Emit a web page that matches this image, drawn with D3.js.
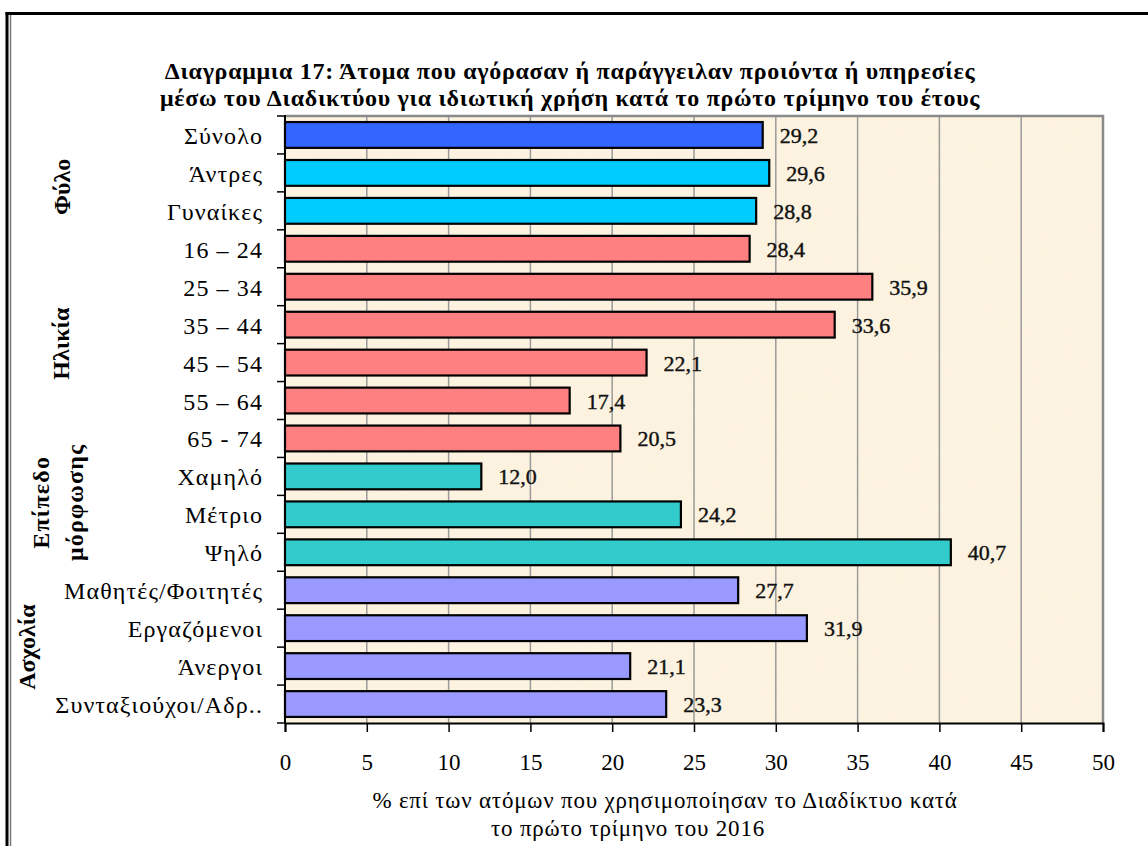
<!DOCTYPE html>
<html>
<head>
<meta charset="utf-8">
<script src="https://cdn.jsdelivr.net/npm/d3@7"></script>
<style>
  body { margin: 0; background: #fff; }
  text { font-family: "Liberation Serif", "DejaVu Serif Condensed", "DejaVu Serif", serif; fill: #000; }
</style>
</head>
<body>
<div class="chart"></div>
<script>
// Data
var categories = ["Σύνολο", "Άντρες", "Γυναίκες", "16 – 24", "25 – 34", "35 – 44", "45 – 54",
  "55 – 64", "65 - 74", "Χαμηλό", "Μέτριο", "Ψηλό", "Μαθητές/Φοιτητές", "Εργαζόμενοι",
  "Άνεργοι", "Συνταξιούχοι/Αδρ.."];
var values = [29.2, 29.6, 28.8, 28.4, 35.9, 33.6, 22.1, 17.4, 20.5, 12.0, 24.2, 40.7, 27.7, 31.9, 21.1, 23.3];
var groupOf = ["total", "sex", "sex", "age", "age", "age", "age", "age", "age",
  "edu", "edu", "edu", "job", "job", "job", "job"];
var groupColors = { total: "#3366FF", sex: "#00CCFF", age: "#FF8080", edu: "#33CCCC", job: "#9999FF" };
var groupLabels = [
  { lines: ["Φύλο"], first: "Άντρες", last: "Γυναίκες" },
  { lines: ["Ηλικία"], first: "16 – 24", last: "65 - 74" },
  { lines: ["Επίπεδο", "μόρφωσης"], first: "Χαμηλό", last: "Ψηλό" },
  { lines: ["Ασχολία"], first: "Μαθητές/Φοιτητές", last: "Συνταξιούχοι/Αδρ.." }
];
var xTicks = [0, 5, 10, 15, 20, 25, 30, 35, 40, 45, 50];
var titleLines = [
  "Διαγραμμια 17: Άτομα που αγόρασαν ή παράγγειλαν προιόντα ή υπηρεσίες",
  "μέσω του Διαδικτύου για ιδιωτική χρήση κατά το πρώτο τρίμηνο του έτους"
];
var xTitleLines = [
  "% επί των ατόμων που χρησιμοποίησαν το Διαδίκτυο κατά",
  "το πρώτο τρίμηνο του 2016"
];

var svgWidth = 1148;
var svgHeight = 846;
var plot = { left: 285, right: 1103, top: 116, bottom: 723 };

var svg = d3.select(".chart").append("svg")
  .attr("width", svgWidth)
  .attr("height", svgHeight);

// outer frame
svg.append("line").attr("x1", 7).attr("x2", 7).attr("y1", 12).attr("y2", svgHeight)
  .attr("stroke", "#000").attr("stroke-width", 3);
svg.append("line").attr("x1", 10.5).attr("x2", 10.5).attr("y1", 15).attr("y2", svgHeight)
  .attr("stroke", "#777").attr("stroke-width", 1.5);
svg.append("line").attr("x1", 5.5).attr("x2", svgWidth).attr("y1", 13.5).attr("y2", 13.5)
  .attr("stroke", "#000").attr("stroke-width", 3);

// scales
var x = d3.scaleLinear().domain([0, 50]).range([plot.left, plot.right]);
var y = d3.scaleBand().domain(categories).range([plot.top, plot.bottom])
  .paddingInner(0.32).paddingOuter(0.16);

// plot background (parchment)
var defs = svg.append("defs");
var f = defs.append("filter").attr("id", "paper").attr("x", 0).attr("y", 0).attr("width", 1).attr("height", 1);
f.append("feTurbulence").attr("type", "fractalNoise").attr("baseFrequency", 0.02).attr("numOctaves", 3).attr("seed", 4).attr("result", "n");
f.append("feColorMatrix").attr("in", "n").attr("type", "matrix")
  .attr("values", "0 0 0 0 0.95  0 0 0 0 0.88  0 0 0 0 0.74  0 0 0 0.3 0").attr("result", "c");
f.append("feComposite").attr("in", "c").attr("in2", "SourceGraphic").attr("operator", "in").attr("result", "m");
f.append("feMerge").selectAll("feMergeNode").data(["SourceGraphic", "m"]).enter()
  .append("feMergeNode").attr("in", function(d) { return d; });

svg.append("rect")
  .attr("x", plot.left).attr("y", plot.top)
  .attr("width", plot.right - plot.left).attr("height", plot.bottom - plot.top)
  .attr("fill", "#FDF3E0")
  .attr("filter", "url(#paper)");

// grid lines
svg.append("g").selectAll("line")
  .data(xTicks.filter(function(d) { return d > 0 && d < 50; }))
  .enter().append("line")
  .attr("x1", function(d) { return x(d); }).attr("x2", function(d) { return x(d); })
  .attr("y1", plot.top).attr("y2", plot.bottom)
  .attr("stroke", "#9a9a9a").attr("stroke-width", 1.5);

// plot border top/right
svg.append("path")
  .attr("d", "M" + plot.left + "," + plot.top + "H" + plot.right + "V" + plot.bottom)
  .attr("fill", "none").attr("stroke", "#8a8a8a").attr("stroke-width", 2.5);

// bars
svg.append("g").selectAll("rect")
  .data(values).enter().append("rect")
  .attr("x", x(0))
  .attr("y", function(d, i) { return y(categories[i]); })
  .attr("width", function(d) { return x(d) - x(0); })
  .attr("height", y.bandwidth())
  .attr("fill", function(d, i) { return groupColors[groupOf[i]]; })
  .attr("stroke", "#000").attr("stroke-width", 2.2);

// value labels
svg.append("g").selectAll("text")
  .data(values).enter().append("text")
  .attr("x", function(d) { return x(d) + 17; })
  .attr("y", function(d, i) { return y(categories[i]) + y.bandwidth() / 2 + 8; })
  .style("font-size", "22px")
  .style("fill", "#111")
  .style("stroke", "#111").style("stroke-width", 0.4)
  .text(function(d) { return d3.format(".1f")(d).replace(".", ","); });

// left axis: ticks at band boundaries
var step = y.step();
var bounds = d3.range(categories.length + 1).map(function(i) { return plot.top + i * step; });
var leftAxis = svg.append("g");
leftAxis.append("line").attr("x1", plot.left).attr("x2", plot.left)
  .attr("y1", plot.top - 1).attr("y2", plot.bottom + 1)
  .attr("stroke", "#000").attr("stroke-width", 2);
leftAxis.selectAll(".tk").data(bounds).enter().append("line")
  .attr("x1", plot.left - 8).attr("x2", plot.left)
  .attr("y1", function(d) { return d; }).attr("y2", function(d) { return d; })
  .attr("stroke", "#000").attr("stroke-width", 1.5);
leftAxis.selectAll("text").data(categories).enter().append("text")
  .attr("x", plot.left - 22)
  .attr("y", function(d) { return y(d) + y.bandwidth() / 2 + 9; })
  .attr("text-anchor", "end")
  .style("font-size", "24px")
  .style("letter-spacing", "1.1px")
  .text(function(d) { return d; });

// bottom axis
var bottomAxis = d3.axisBottom(x).tickValues(xTicks).tickSize(9).tickPadding(22)
  .tickFormat(d3.format("d"));
var gx = svg.append("g")
  .attr("transform", "translate(0," + plot.bottom + ")")
  .call(bottomAxis);
gx.select(".domain").attr("stroke", "#000").attr("stroke-width", 2);
gx.selectAll(".tick line").attr("stroke", "#000").attr("stroke-width", 1.5);
gx.selectAll(".tick text")
  .style("font-family", "'Liberation Serif', 'DejaVu Serif Condensed', 'DejaVu Serif', serif")
  .style("font-size", "23px").style("fill", "#000");

// group labels (rotated)
groupLabels.forEach(function(g, gi) {
  var cy = (y(g.first) + y(g.last) + y.bandwidth()) / 2;
  var xs = gi === 0 ? [61] : gi === 1 ? [60] : gi === 2 ? [40, 74] : [26];
  var cyAdj = gi === 0 ? cy - 5 : gi === 2 ? cy - 12 : cy;
  g.lines.forEach(function(line, li) {
    svg.append("text")
      .attr("transform", "translate(" + (xs[li] + 9) + "," + cyAdj + ") rotate(-90)")
      .attr("text-anchor", "middle")
      .style("font-size", "24px")
      .style("font-weight", "bold")
      .style("letter-spacing", gi === 2 ? "1.2px" : "0px")
      .text(line);
  });
});

// title
svg.append("g").selectAll("text")
  .data(titleLines).enter().append("text")
  .attr("x", 570)
  .attr("y", function(d, i) { return 79 + i * 27; })
  .attr("text-anchor", "middle")
  .style("font-size", "24px")
  .style("font-weight", "bold")
  .style("letter-spacing", "0.7px")
  .text(function(d) { return d; });

// x axis title
svg.append("g").selectAll("text")
  .data(xTitleLines).enter().append("text")
  .attr("x", function(d, i) { return i === 0 ? 665 : 628; })
  .attr("y", function(d, i) { return 808 + i * 28; })
  .attr("text-anchor", "middle")
  .style("font-size", "23px")
  .style("letter-spacing", "0.8px")
  .text(function(d) { return d; });
</script>
</body>
</html>
